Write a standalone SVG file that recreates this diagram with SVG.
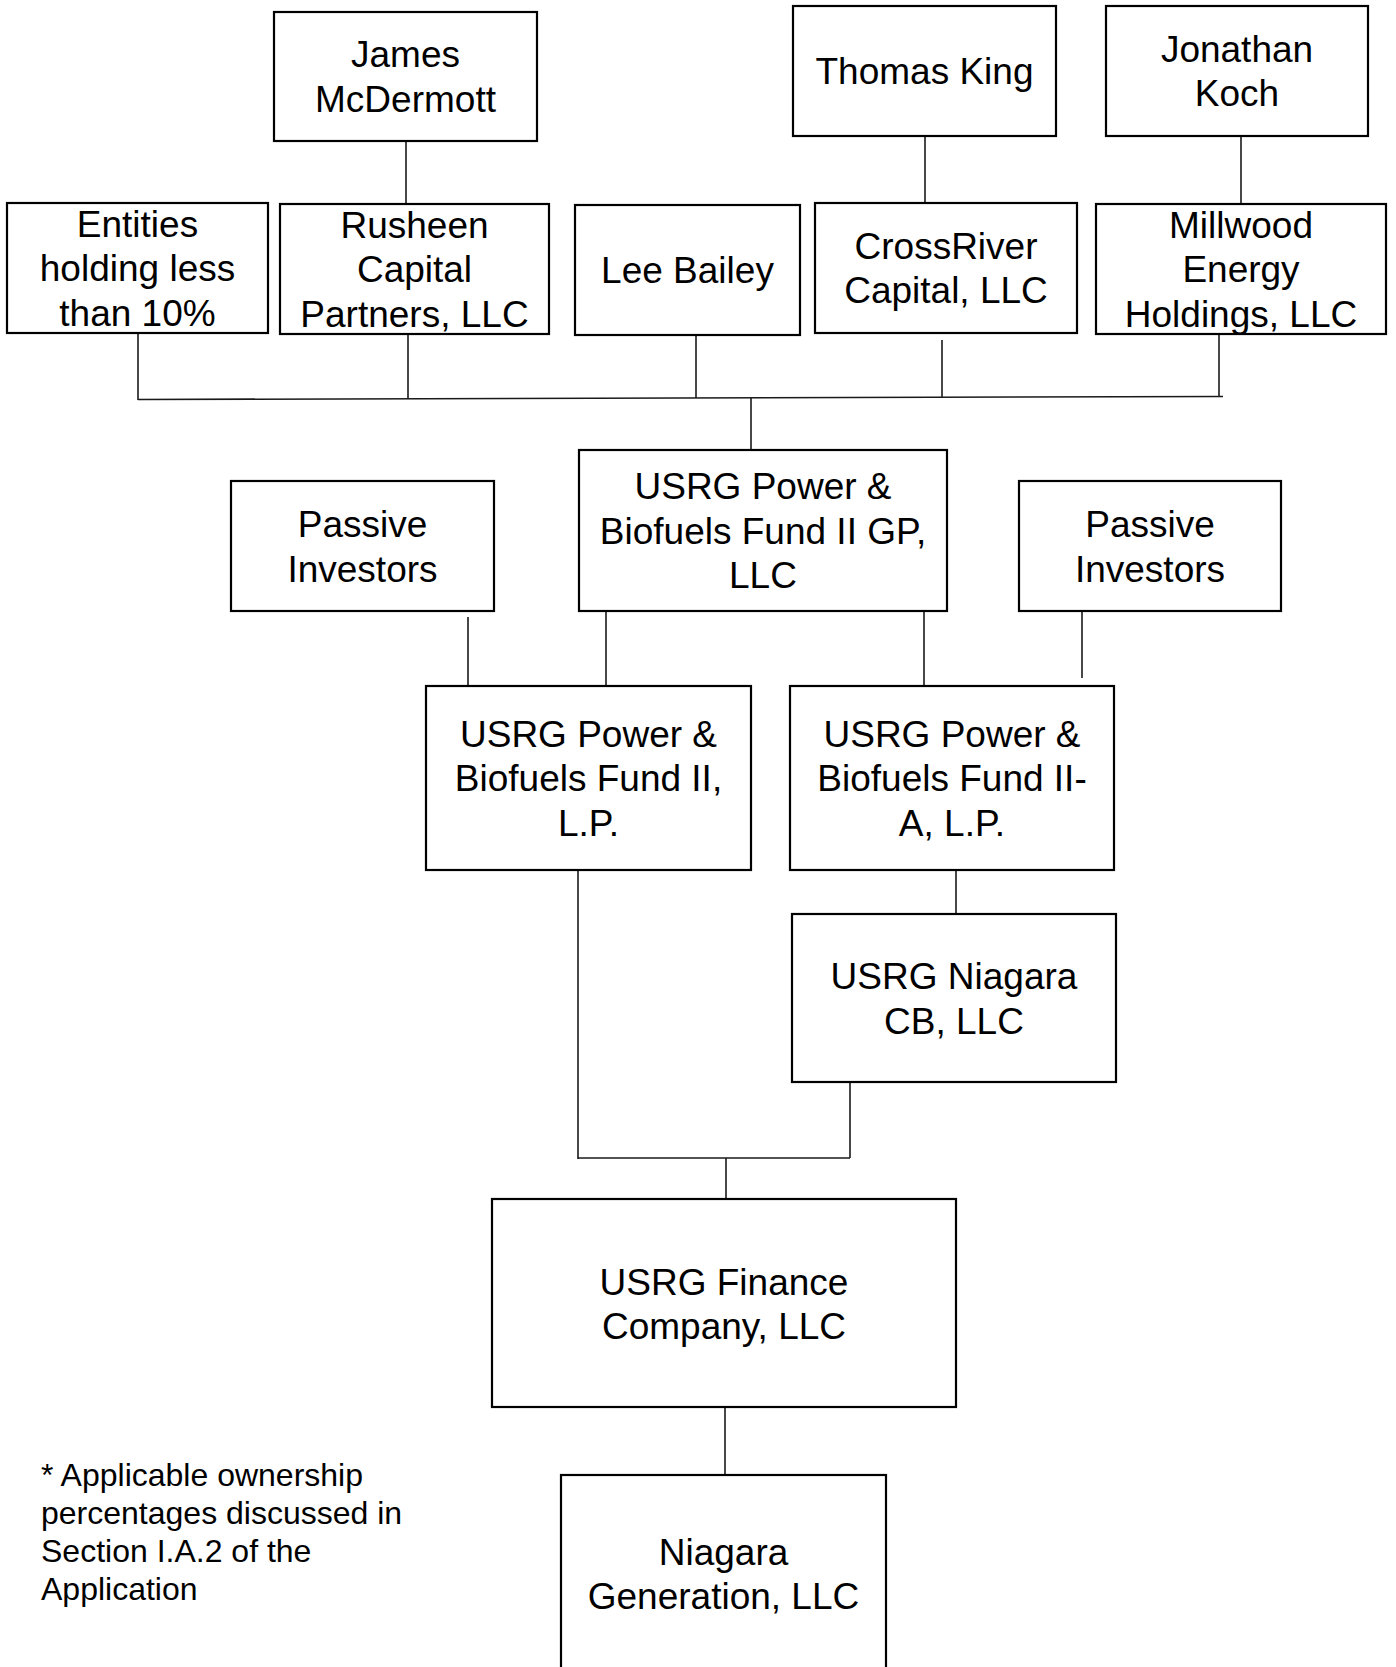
<svg xmlns="http://www.w3.org/2000/svg" width="1396" height="1667" viewBox="0 0 1396 1667">
<style>
.box{fill:#fff;stroke:#000;stroke-width:2.2}
.lbl{font-family:"Liberation Sans",Arial,sans-serif;font-size:37px;fill:#000;text-anchor:middle}
.note{font-family:"Liberation Sans",Arial,sans-serif;font-size:32px;fill:#000}
.conn line{stroke:#1a1a1a;stroke-width:1.6}
</style>
<rect width="1396" height="1667" fill="#fff"/>
<g class="conn" id="connectors">
<line x1="406" y1="141" x2="406" y2="204"/>
<line x1="925" y1="136" x2="925" y2="203"/>
<line x1="1241" y1="136" x2="1241" y2="204"/>
<line x1="138" y1="333" x2="138" y2="400"/>
<line x1="408" y1="334" x2="408" y2="399"/>
<line x1="696" y1="335" x2="696" y2="398"/>
<line x1="942" y1="340" x2="942" y2="398"/>
<line x1="1219" y1="334" x2="1219" y2="397"/>
<line x1="138" y1="399.5" x2="1223" y2="396.5" stroke-width="2"/>
<line x1="751" y1="398" x2="751" y2="450"/>
<line x1="468" y1="617" x2="468" y2="686"/>
<line x1="606" y1="611" x2="606" y2="686"/>
<line x1="924" y1="611" x2="924" y2="686"/>
<line x1="1082" y1="611" x2="1082" y2="678"/>
<line x1="578" y1="870" x2="578" y2="1159"/>
<line x1="956" y1="870" x2="956" y2="914"/>
<line x1="850" y1="1082" x2="850" y2="1158"/>
<line x1="578" y1="1158" x2="850" y2="1158" stroke-width="2"/>
<line x1="726" y1="1158" x2="726" y2="1199"/>
<line x1="725" y1="1407" x2="725" y2="1475"/>
</g>
<g id="james"><rect class="box" x="274" y="12" width="263" height="129"/><text class="lbl" x="405.5"><tspan x="405.5" y="67">James</tspan><tspan x="405.5" y="112">McDermott</tspan></text></g>
<g id="thomas"><rect class="box" x="793" y="6" width="263" height="130"/><text class="lbl" x="924.5" y="84">Thomas King</text></g>
<g id="jonathan"><rect class="box" x="1106" y="6" width="262" height="130"/><text class="lbl"><tspan x="1237" y="62">Jonathan</tspan><tspan x="1237" y="106">Koch</tspan></text></g>
<g id="entities"><rect class="box" x="7" y="203" width="261" height="130"/><text class="lbl"><tspan x="137.5" y="237">Entities</tspan><tspan x="137.5" y="281">holding less</tspan><tspan x="137.5" y="326">than 10%</tspan></text></g>
<g id="rusheen"><rect class="box" x="280" y="204" width="269" height="130"/><text class="lbl"><tspan x="414.5" y="238">Rusheen</tspan><tspan x="414.5" y="282">Capital</tspan><tspan x="414.5" y="327">Partners, LLC</tspan></text></g>
<g id="lee"><rect class="box" x="575" y="205" width="225" height="130"/><text class="lbl" x="687.5" y="283">Lee Bailey</text></g>
<g id="crossriver"><rect class="box" x="815" y="203" width="262" height="130"/><text class="lbl"><tspan x="946" y="259">CrossRiver</tspan><tspan x="946" y="303">Capital, LLC</tspan></text></g>
<g id="millwood"><rect class="box" x="1096" y="204" width="290" height="130"/><text class="lbl"><tspan x="1241" y="238">Millwood</tspan><tspan x="1241" y="282">Energy</tspan><tspan x="1241" y="327">Holdings, LLC</tspan></text></g>
<g id="gp"><rect class="box" x="579" y="450" width="368" height="161"/><text class="lbl"><tspan x="763" y="499">USRG Power &amp;</tspan><tspan x="763" y="544">Biofuels Fund II GP,</tspan><tspan x="763" y="588">LLC</tspan></text></g>
<g id="passive-left"><rect class="box" x="231" y="481" width="263" height="130"/><text class="lbl"><tspan x="362.5" y="537">Passive</tspan><tspan x="362.5" y="582">Investors</tspan></text></g>
<g id="passive-right"><rect class="box" x="1019" y="481" width="262" height="130"/><text class="lbl"><tspan x="1150" y="537">Passive</tspan><tspan x="1150" y="582">Investors</tspan></text></g>
<g id="fund2"><rect class="box" x="426" y="686" width="325" height="184"/><text class="lbl"><tspan x="588.5" y="747">USRG Power &amp;</tspan><tspan x="588.5" y="791">Biofuels Fund II,</tspan><tspan x="588.5" y="836">L.P.</tspan></text></g>
<g id="fund2a"><rect class="box" x="790" y="686" width="324" height="184"/><text class="lbl"><tspan x="952" y="747">USRG Power &amp;</tspan><tspan x="952" y="791">Biofuels Fund II-</tspan><tspan x="952" y="836">A, L.P.</tspan></text></g>
<g id="niagara-cb"><rect class="box" x="792" y="914" width="324" height="168"/><text class="lbl"><tspan x="954" y="989">USRG Niagara</tspan><tspan x="954" y="1034">CB, LLC</tspan></text></g>
<g id="finance"><rect class="box" x="492" y="1199" width="464" height="208"/><text class="lbl"><tspan x="724" y="1295">USRG Finance</tspan><tspan x="724" y="1339">Company, LLC</tspan></text></g>
<g id="generation"><rect class="box" x="561" y="1475" width="325" height="198"/><text class="lbl"><tspan x="723.5" y="1565">Niagara</tspan><tspan x="723.5" y="1609">Generation, LLC</tspan></text></g>
<g id="footnote"><text class="note"><tspan x="41" y="1486">* Applicable ownership</tspan><tspan x="41" y="1524">percentages discussed in</tspan><tspan x="41" y="1562">Section I.A.2 of the</tspan><tspan x="41" y="1600">Application</tspan></text></g>
</svg>
